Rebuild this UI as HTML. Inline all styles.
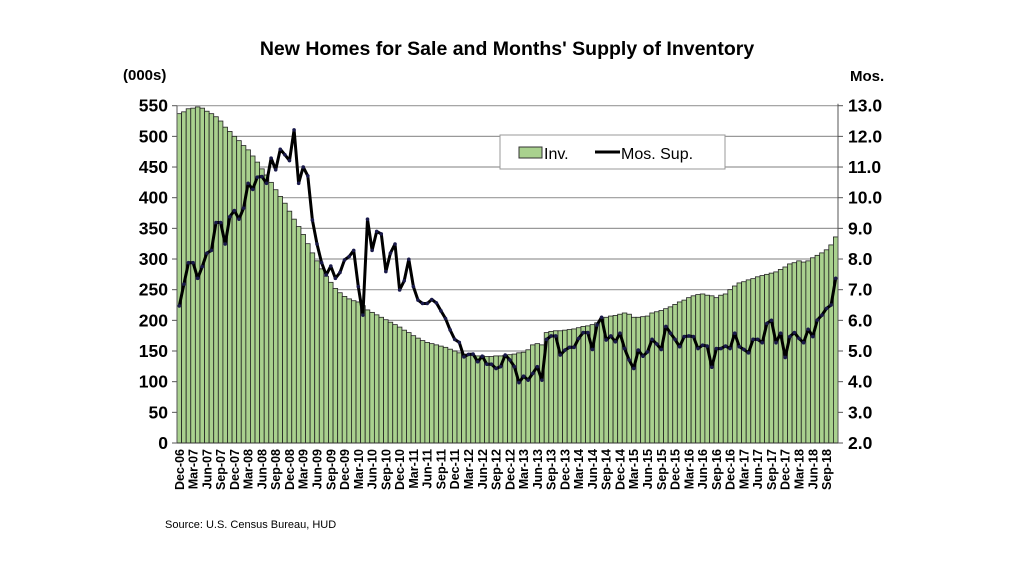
<!DOCTYPE html>
<html><head><meta charset="utf-8"><style>
body{margin:0;background:#fff;width:1024px;height:576px;overflow:hidden}
svg{font-family:"Liberation Sans",Arial,sans-serif}
</style></head><body>
<svg id="chart" width="1024" height="576" xmlns="http://www.w3.org/2000/svg">
<text x="507" y="55" text-anchor="middle" font-size="19.5" font-weight="bold">New Homes for Sale and Months' Supply of Inventory</text>
<text x="123" y="80" font-size="15" font-weight="bold">(000s)</text>
<text x="850" y="81" font-size="15" font-weight="bold">Mos.</text>
<g id="grid"></g><g id="bars"></g><g id="line"></g><g id="axes"></g>
<g>
<rect x="500" y="135" width="225" height="34" fill="#fff" stroke="#999"/>
<rect x="519" y="147" width="23" height="11" fill="#a9d18e" stroke="#333"/>
<text x="544" y="159" font-size="16">Inv.</text>
<line x1="595" y1="152" x2="620" y2="152" stroke="#000" stroke-width="3"/>
<text x="621" y="159" font-size="16">Mos. Sup.</text>
</g>
<text x="165" y="528" font-size="11">Source:  U.S. Census Bureau, HUD</text>
</svg>
<script>
const startLabels = ["Dec","Mar","Jun","Sep"];
const inventory = [537,540,545,546,548,546,541,537,532,525,515,508,500,493,485,478,468,458,447,437,
425,413,402,391,378,365,353,340,325,310,297,284,272,262,252,245,239,235,232,230,
224,217,213,209,205,201,197,193,189,184,180,175,171,167,164,162,160,158,156,153,
150,147,145,144,143,142,142,141,141,142,142,143,144,145,147,148,152,160,162,160,
180,182,183,183,184,185,186,188,190,191,193,196,200,205,207,208,210,212,210,205,
205,206,207,212,214,216,219,222,226,230,233,237,240,242,243,241,240,237,241,243,
250,256,261,263,266,268,271,273,275,277,279,283,287,292,294,297,295,297,302,306,310,315,323,336];
const monthsSupply = [6.47,7.18,7.88,7.88,7.37,7.75,8.19,8.28,9.19,9.19,8.49,9.38,9.58,9.30,9.66,10.47,10.27,10.67,10.69,10.47,
11.29,10.91,11.58,11.40,11.21,12.21,10.47,11.0,10.71,9.27,8.49,7.88,7.48,7.77,7.37,7.56,7.97,8.08,8.28,7.10,
6.17,9.30,8.28,8.90,8.82,7.59,8.19,8.49,6.99,7.29,7.99,7.10,6.66,6.55,6.55,6.68,6.57,6.31,6.06,5.69,
5.38,5.28,4.81,4.89,4.90,4.65,4.83,4.57,4.57,4.43,4.49,4.87,4.71,4.49,3.97,4.18,4.05,4.27,4.49,4.05,
5.38,5.49,5.49,4.87,5.03,5.12,5.12,5.41,5.60,5.60,5.05,5.85,6.10,5.36,5.49,5.30,5.58,5.08,4.71,4.43,
5.03,4.83,4.97,5.38,5.23,5.05,5.80,5.58,5.38,5.14,5.47,5.49,5.47,5.08,5.19,5.16,4.47,5.08,5.08,5.16,
5.08,5.58,5.14,5.05,4.94,5.38,5.38,5.27,5.90,6.00,5.27,5.58,4.79,5.47,5.60,5.41,5.27,5.71,5.47,6.01,
6.17,6.39,6.50,7.37];
const leftTicks = [0,50,100,150,200,250,300,350,400,450,500,550];
const rightTicks = ["2.0","3.0","4.0","5.0","6.0","7.0","8.0","9.0","10.0","11.0","12.0","13.0"];
const startYear = 6;

const NS="http://www.w3.org/2000/svg";
const L=177,R=838,T=105.7,B=443;
const n=inventory.length, bw=(R-L)/n;
const xAt=i=>L+bw*(i+0.5);
const yL=v=>B-(v/550)*(B-T);
const yR=v=>B-((v-2)/11)*(B-T);
function mk(tag,attrs,parent,txt){const e=document.createElementNS(NS,tag);for(const k in attrs)e.setAttribute(k,attrs[k]);if(txt!==undefined)e.textContent=txt;parent.appendChild(e);return e;}
const grid=document.getElementById('grid'),bars=document.getElementById('bars'),line=document.getElementById('line'),axes=document.getElementById('axes');
leftTicks.forEach((v,i)=>{
  const y=yL(v);
  if(v>0){const g=mk('line',{x1:L,x2:R,y1:y,y2:y,stroke:'#999','stroke-width':1.2},grid);
  
  }
  const t=mk('text',{x:L-9,y:y+6,'text-anchor':'end','font-size':17.5,'font-weight':'bold'},axes,String(v));
  
  
  const r=mk('text',{x:R+10,y:yR(parseFloat(rightTicks[i]))+6,'font-size':17.5,'font-weight':'bold'},axes,rightTicks[i]);
  
  
  mk('line',{x1:L-5,x2:L,y1:y,y2:y,stroke:'#555'},axes);
  mk('line',{x1:R,x2:R+5,y1:y,y2:y,stroke:'#555'},axes);
});
inventory.forEach((v,i)=>{
  const b=mk('rect',{x:L+bw*i,y:yL(v),width:bw,height:B-yL(v),fill:'#a9d18e',stroke:'#222','stroke-width':0.8},bars);
  
  
  if(i%3===0){
    const yr=startYear+Math.floor((i+11)/12);
    const lab=startLabels[(i/3)%4]+'-'+String(yr).padStart(2,'0');
    const x=xAt(i)+4.5;
    const t=mk('text',{x:x,y:449,'text-anchor':'end','font-size':12.5,'font-weight':'bold',transform:`rotate(-90 ${x} 449)`},axes,lab);
    
    
  }
});
const pts=monthsSupply.map((v,i)=>xAt(i).toFixed(1)+','+yR(v).toFixed(1)).join(' ');
const pl=mk('polyline',{points:pts,fill:'none',stroke:'#000','stroke-width':3,'stroke-linejoin':'round'},line);


monthsSupply.forEach((v,i)=>{const c=mk('circle',{cx:xAt(i),cy:yR(v),r:1.8,fill:'#1a1a4a'},line);

});
mk('line',{x1:L,x2:L,y1:T,y2:B,stroke:'#555'},axes);
mk('line',{x1:R,x2:R,y1:T-2,y2:B,stroke:'#555'},axes);
mk('line',{x1:L,x2:R,y1:B,y2:B,stroke:'#333'},axes);
</script>
</body></html>
